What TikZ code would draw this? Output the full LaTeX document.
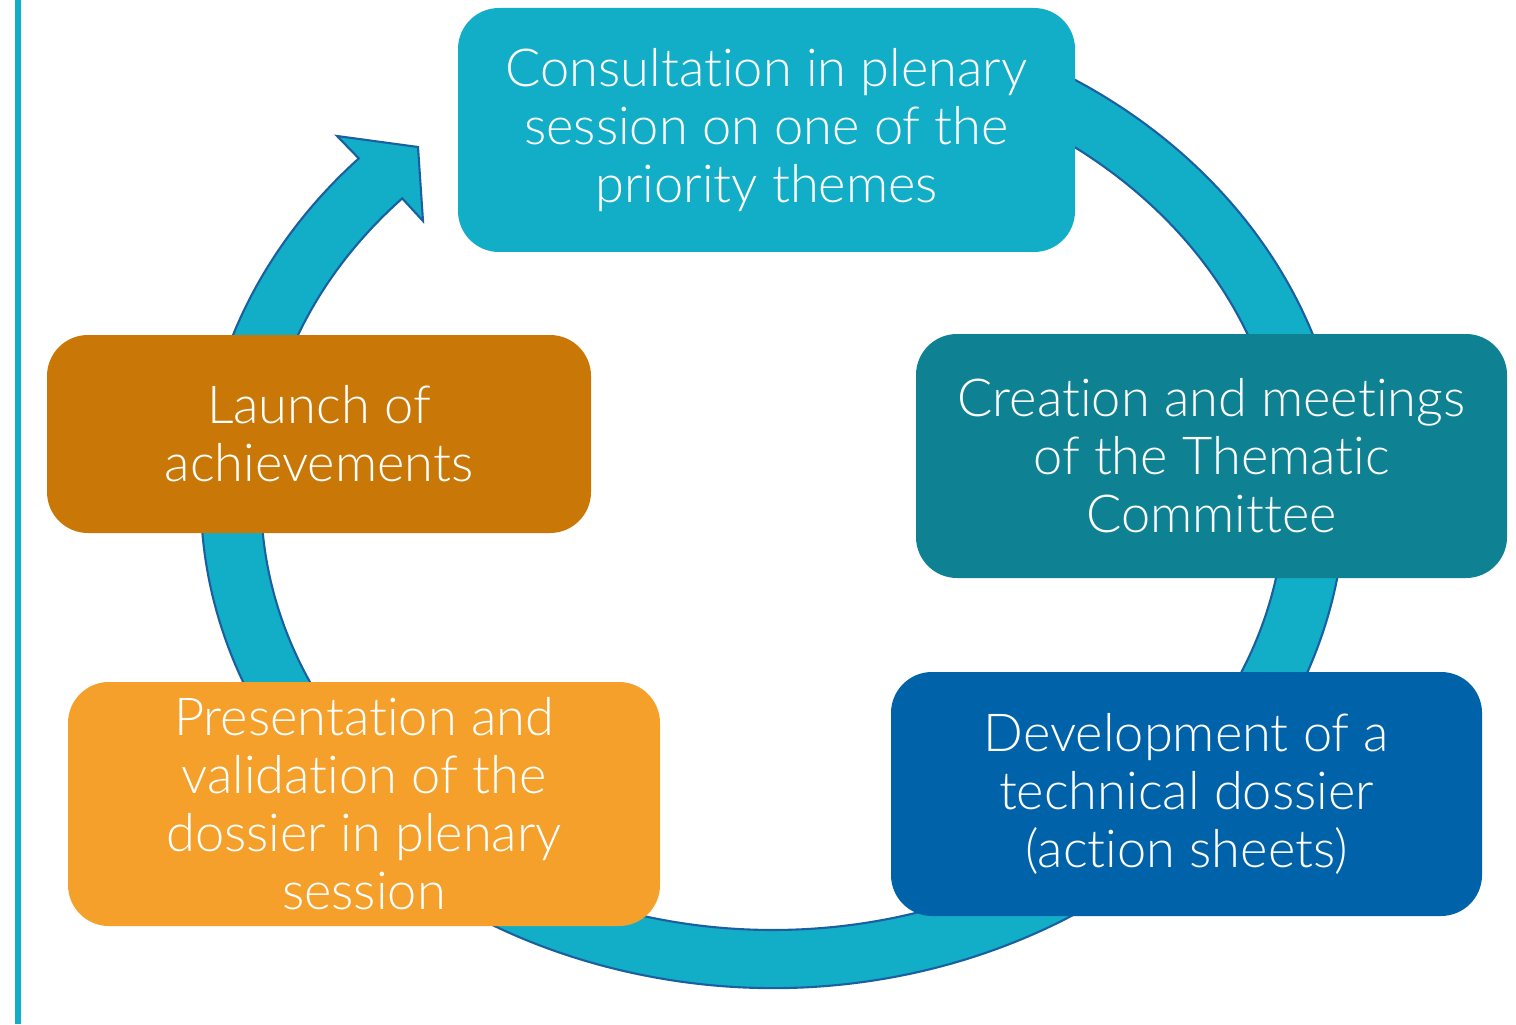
\documentclass[tikz,border=0pt]{standalone}
\usepackage{fontspec}
\setmainfont{Lato Light}[Ligatures=NoCommon]
\definecolor{ringcyan}{HTML}{12AEC8}
\definecolor{ringline}{HTML}{1A5FA0}
\definecolor{teal}{HTML}{0E8192}
\definecolor{deepblue}{HTML}{0062A9}
\definecolor{amber}{HTML}{F5A02A}
\definecolor{bronze}{HTML}{C97808}
\tikzset{
  phase/.style={rounded corners=0.41cm,minimum width=5.91cm,minimum height=2.44cm,
    text=white,align=center,inner sep=0pt,
    font=\fontsize{14.9}{16.5}\selectfont}
}
\begin{document}
\begin{tikzpicture}
  \useasboundingbox(0,0)rectangle(15.16,10.24);
  \draw[ringcyan,line width=0.06cm](0.175,0) -- (0.175,10.24);
  \coordinate(ring)at(7.73,5.27);
  \begin{scope}[shift={(ring)}]
    \filldraw[fill=ringcyan,draw=ringline,line width=0.6pt,line join=miter]
      (75:5.72 and 4.91) arc[start angle=75,end angle=-223.6,x radius=5.72,y radius=4.91]
      -- (-4.36,3.61) -- (-3.55,3.50) -- (-3.50,2.76)
      -- (136.4:5.12 and 4.33) arc[start angle=-223.6,end angle=75,x radius=5.12,y radius=4.33]
      -- cycle;
  \end{scope}
  \node[phase,fill=ringcyan,minimum width=6.17cm](consult)at(7.665,8.94)
    {Consultation in plenary\\session on one of the\\priority themes};
  \node[phase,fill=teal](creation)at(12.115,5.68)
    {Creation and meetings\\of the Thematic\\Committee};
  \node[phase,fill=deepblue](develop)at(11.865,2.30)
    {Development of a\\technical dossier\\(action sheets)};
  \node[phase,fill=amber,minimum width=5.92cm](present)at(3.64,2.20)
    {Presentation and\\validation of the\\dossier in plenary\\session};
  \node[phase,fill=bronze,minimum width=5.44cm,minimum height=1.98cm](launch)at(3.19,5.90)
    {Launch of\\achievements};
\end{tikzpicture}
\end{document}
